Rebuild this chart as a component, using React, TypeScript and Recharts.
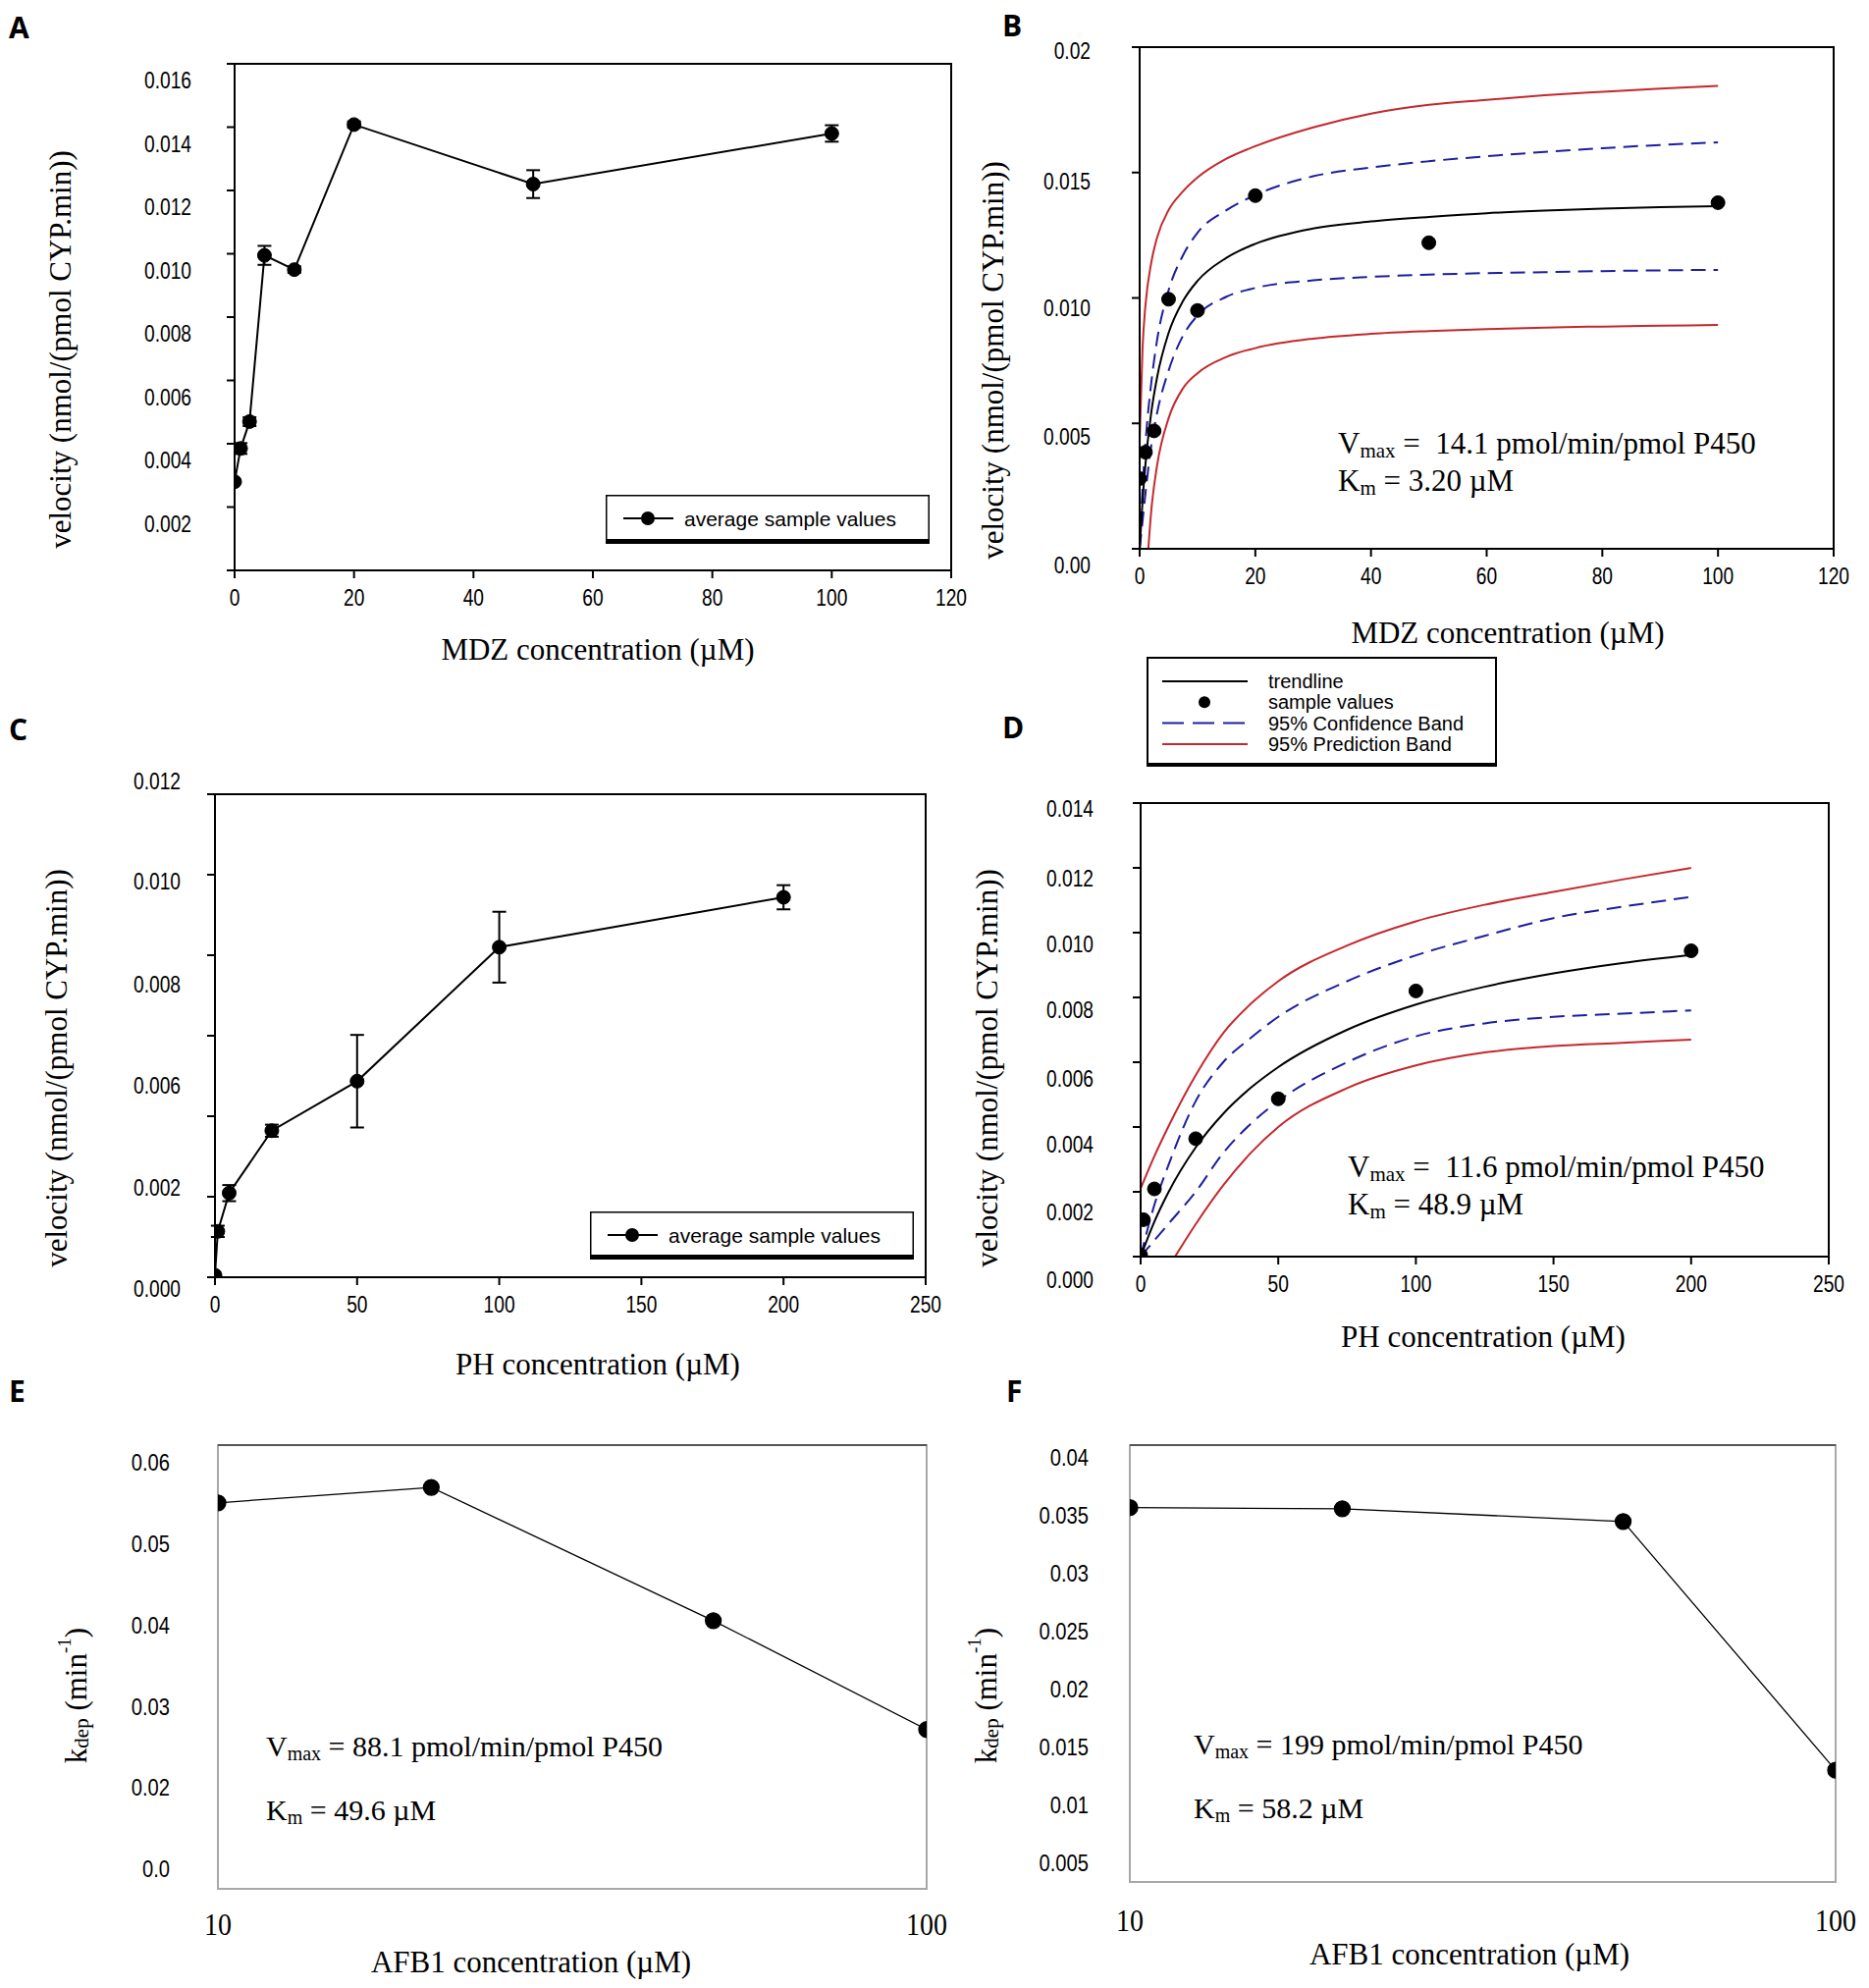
import React from "react";
import {
  ComposedChart,
  Line,
  XAxis,
  YAxis,
  ErrorBar,
  ReferenceArea,
  ReferenceLine,
  Legend,
} from "recharts";

const SANS = "'Liberation Sans', Arial, sans-serif";
const SERIF = "'Liberation Serif', 'Times New Roman', serif";
const BOLD = "'Open Sans', 'Liberation Sans', Arial, sans-serif";
const RED = "#c4282e";
const BLUE = "#1e1e9e";

// MDZ experiment (panels A and B)
const MDZ_CONC = [0, 1, 2.5, 5, 10, 20, 50, 100];
const MDZ_VELOCITY = [0.0028, 0.00385, 0.0047, 0.00995, 0.0095, 0.01408, 0.0122, 0.0138];
const MDZ_SD = [0, 0.00017, 0.00014, 0.0003, 0.0001, 0.0001, 0.00044, 0.00026];

const MDZ_FIT_X = [0, 0.5, 1, 2, 3, 5, 7.5, 10, 15, 20, 30, 40, 50, 60, 70, 80, 90, 100];
const MDZ_TREND = [0, 0.0019, 0.00336, 0.00542, 0.00682, 0.0086, 0.00988, 0.01068, 0.0116, 0.01216, 0.01277, 0.01305, 0.01323, 0.01338, 0.01348, 0.01356, 0.01362, 0.01366];
const MDZ_CONF_UP = [0, 0.0024, 0.0042, 0.0066, 0.0083, 0.0103, 0.0117, 0.0126, 0.0135, 0.0141, 0.01485, 0.0152, 0.01545, 0.01565, 0.01582, 0.01597, 0.0161, 0.0162];
const MDZ_CONF_LOW = [0, 0.0011, 0.0022, 0.0041, 0.0054, 0.0071, 0.0085, 0.0093, 0.01005, 0.0104, 0.0107, 0.01084, 0.01093, 0.01099, 0.01103, 0.01107, 0.0111, 0.01112];
const MDZ_PRED_UP = [0.0043, 0.008, 0.0097, 0.0114, 0.0124, 0.0135, 0.01425, 0.0148, 0.01555, 0.01605, 0.0168, 0.01735, 0.0177, 0.0179, 0.01808, 0.01822, 0.01835, 0.01845];
const MDZ_PRED_LOW_X = [1.5, 2, 3, 5, 7.5, 10, 15, 20, 30, 40, 50, 60, 70, 80, 90, 100];
const MDZ_PRED_LOW = [0, 0.0015, 0.0033, 0.0052, 0.0064, 0.007, 0.00765, 0.008, 0.00838, 0.00857, 0.00868, 0.00876, 0.00882, 0.00886, 0.00889, 0.00892];

// PH experiment (panels C and D)
const PH_CONC = [0, 1, 5, 20, 50, 100, 200];
const PH_VELOCITY = [0.00005, 0.00114, 0.00209, 0.00364, 0.00487, 0.0082, 0.00944];
const PH_SD = [0, 0.00014, 0.0002, 0.00015, 0.00115, 0.00088, 0.0003];

const PH_FIT_X = [0, 5, 10, 20, 30, 40, 50, 75, 100, 125, 150, 175, 200];
const PH_TREND = [0, 0.00108, 0.00197, 0.00337, 0.00441, 0.00521, 0.00585, 0.007, 0.00778, 0.00833, 0.00874, 0.00906, 0.00931];
const PH_CONF_UP = [0, 0.0016, 0.0028, 0.0048, 0.006, 0.00675, 0.0074, 0.0085, 0.0093, 0.0099, 0.01045, 0.0108, 0.0111];
const PH_CONF_LOW = [0, 0.0005, 0.001, 0.002, 0.0032, 0.0041, 0.0048, 0.006, 0.0068, 0.0072, 0.0074, 0.0075, 0.0076];
const PH_PRED_UP = [0.0021, 0.0031, 0.004, 0.0056, 0.0069, 0.0078, 0.0085, 0.0096, 0.01035, 0.01086, 0.01126, 0.01164, 0.012];
const PH_PRED_LOW_X = [12.5, 20, 30, 40, 50, 75, 100, 125, 150, 175, 200];
const PH_PRED_LOW = [0, 0.001, 0.0022, 0.0032, 0.004, 0.0052, 0.0059, 0.0063, 0.0065, 0.0066, 0.0067];

// AFB1 depletion (panels E and F)
const AFB1_CONC = [10, 20, 50, 100];
const E_KDEP = [0.0551, 0.057, 0.0406, 0.0272];
const F_KDEP = [0.0357, 0.0356, 0.0345, 0.013];

// tick values and labels
const A_X_TICKS = [0, 20, 40, 60, 80, 100, 120];
const A_X_LABELS = ["0", "20", "40", "60", "80", "100", "120"];
const A_Y_TICKS = [0, 0.002, 0.004, 0.006, 0.008, 0.01, 0.012, 0.014, 0.016];
const A_Y_LABELS = ["", "0.002", "0.004", "0.006", "0.008", "0.010", "0.012", "0.014", "0.016"];
const B_Y_TICKS = [0, 0.005, 0.01, 0.015, 0.02];
const B_Y_LABELS = ["0.00", "0.005", "0.010", "0.015", "0.02"];
const C_X_TICKS = [0, 50, 100, 150, 200, 250];
const C_X_LABELS = ["0", "50", "100", "150", "200", "250"];
const C_Y_TICKS = [0, 0.002, 0.004, 0.006, 0.008, 0.01, 0.012];
const C_Y_LABELS = ["0.000", "0.002", "", "0.006", "0.008", "0.010", "0.012"];
const D_Y_TICKS = [0, 0.002, 0.004, 0.006, 0.008, 0.01, 0.012, 0.014];
const D_Y_LABELS = ["0.000", "0.002", "0.004", "0.006", "0.008", "0.010", "0.012", "0.014"];
const E_X_TICKS = [10, 100];
const E_X_LABELS = ["10", "100"];
const E_Y_TICKS = [0.01, 0.02, 0.03, 0.04, 0.05, 0.06];
const E_Y_LABELS = ["0.0", "0.02", "0.03", "0.04", "0.05", "0.06"];
const F_Y_TICKS = [0.005, 0.01, 0.015, 0.02, 0.025, 0.03, 0.035, 0.04];
const F_Y_LABELS = ["0.005", "0.01", "0.015", "0.02", "0.025", "0.03", "0.035", "0.04"];

// the scanned figure draws its y labels a little off their ticks
const A_Y_SHIFT = [17, 17, 17, 17, 17, 17, 17, 17, 17];
const B_Y_SHIFT = [17, 13, 10, 9, 4];
const C_Y_SHIFT = [12, -9, 0, 51, 30, 7, -13];
const D_Y_SHIFT = [24, 21, 18, 17, 13, 12, 11, 6];

const rows = (xs: number[], ys: number[], errs?: number[]) =>
  xs.map((x, i) => ({ x, y: ys[i], err: errs ? errs[i] : 0 }));

// narrow sans labels, like the condensed face in the figure
function Tick(props: any) {
  const { x, y, index, labels, shifts, anchor, size, family, squeeze = 1 } = props;
  const text = labels[index] ?? "";
  const dy = shifts ? shifts[index] ?? 0 : 0;
  return (
    <text transform={`translate(${x} ${y + dy}) scale(${squeeze} 1)`} textAnchor={anchor} dominantBaseline="central" fontFamily={family} fontSize={size} fill="#000">
      {text}
    </text>
  );
}

function VTitle({ x, y, children }: any) {
  return (
    <text x={x} y={y} transform={`rotate(-90 ${x} ${y})`} textAnchor="middle" dominantBaseline="central" fontFamily={SERIF} fontSize={31} fill="#000">
      {children}
    </text>
  );
}

function HTitle({ x, y, children }: any) {
  return (
    <text x={x} y={y} textAnchor="middle" dominantBaseline="central" fontFamily={SERIF} fontSize={31} fill="#000">
      {children}
    </text>
  );
}

function Kinetics({ x, y, vmax, km, gap = 38, size = 31 }: any) {
  const sub = Math.round(size * 0.68);
  return (
    <g fontFamily={SERIF} fontSize={size} fill="#000">
      <text x={x} y={y} xmlSpace="preserve" style={{ whiteSpace: "pre" }}>
        V<tspan fontSize={sub} dy={4}>max</tspan>
        <tspan dy={-4}>{vmax}</tspan>
      </text>
      <text x={x} y={y + gap} xmlSpace="preserve" style={{ whiteSpace: "pre" }}>
        K<tspan fontSize={sub} dy={4}>m</tspan>
        <tspan dy={-4}>{km}</tspan>
      </text>
    </g>
  );
}

function KdepTitle({ x, y }: any) {
  return (
    <VTitle x={x} y={y}>
      k<tspan fontSize={21} dy={6}>dep</tspan>
      <tspan dy={-6}>{" (min"}</tspan>
      <tspan fontSize={19} dy={-12}>-1</tspan>
      <tspan dy={12}>)</tspan>
    </VTitle>
  );
}

function SampleLegend({ width, height }: any) {
  return (
    <svg width={width} height={height} style={{ display: "block" }}>
      <rect x={0.75} y={0.75} width={width - 1.5} height={height - 4} fill="#fff" stroke="#000" strokeWidth={1.5} />
      <rect x={0} y={height - 5} width={width} height={5} fill="#000" />
      <line x1={18} x2={69} y1={24} y2={24} stroke="#000" strokeWidth={2} />
      <circle cx={43} cy={24} r={7} fill="#000" />
      <text x={80} y={24} dominantBaseline="central" fontFamily={SANS} fontSize={21} fill="#000">
        average sample values
      </text>
    </svg>
  );
}

const FIT_LEGEND = [
  { name: "trendline", kind: "line", color: "#000", dash: undefined },
  { name: "sample values", kind: "dot", color: "#000", dash: undefined },
  { name: "95% Confidence Band", kind: "line", color: BLUE, dash: "22 9" },
  { name: "95% Prediction Band", kind: "line", color: RED, dash: undefined },
];

function FitLegend({ width, height }: any) {
  return (
    <svg width={width} height={height} style={{ display: "block" }}>
      <rect x={1} y={1} width={width - 2} height={height - 4} fill="#fff" stroke="#000" strokeWidth={2} />
      <rect x={0} y={height - 4} width={width} height={4} fill="#000" />
      {FIT_LEGEND.map((item, i) => {
        const cy = 25 + i * 21.3;
        return (
          <g key={item.name}>
            {item.kind === "line" ? (
              <line x1={16} x2={103} y1={cy} y2={cy} stroke={item.color} strokeWidth={2} strokeDasharray={item.dash} />
            ) : (
              <circle cx={59} cy={cy} r={6} fill="#000" />
            )}
            <text x={124} y={cy} dominantBaseline="central" fontFamily={SANS} fontSize={20} fill="#000">
              {item.name}
            </text>
          </g>
        );
      })}
    </svg>
  );
}

const AXIS = { stroke: "#000", strokeWidth: 2 };
const dotStyle = { r: 7, fill: "#000", stroke: "#000", strokeWidth: 1 };

function MeanChart({ xs, ys, errs, xMax, yMax, xTicks, xLabels, yTicks, yLabels, yShift, w, h, top, right, yWidth, xHeight, yTickMargin, legend, titles }: any) {
  return (
    <ComposedChart width={w} height={h} margin={{ top, right, left: 0, bottom: 0 }}>
      <XAxis type="number" dataKey="x" domain={[0, xMax]} ticks={xTicks} interval={0} allowDataOverflow height={xHeight} tickSize={8} tickMargin={20} axisLine={AXIS} tickLine={AXIS}
        tick={<Tick labels={xLabels} anchor="middle" size={24} squeeze={0.8} family={SANS} />} />
      <YAxis type="number" domain={[0, yMax]} ticks={yTicks} interval={0} allowDataOverflow width={yWidth} tickSize={8} tickMargin={yTickMargin} axisLine={AXIS} tickLine={AXIS}
        tick={<Tick labels={yLabels} shifts={yShift} anchor="end" size={24} squeeze={0.8} family={SANS} />} />
      <ReferenceArea x1={0} x2={xMax} y1={0} y2={yMax} fill="none" stroke="#000" strokeWidth={2} ifOverflow="visible" />
      <Line data={rows(xs, ys, errs)} dataKey="y" type="linear" stroke="#000" strokeWidth={2} dot={dotStyle} activeDot={false} isAnimationActive={false}>
        <ErrorBar dataKey="err" width={7} stroke="#000" strokeWidth={2} direction="y" />
      </Line>
      <Legend layout="vertical" align="center" verticalAlign="middle" wrapperStyle={{ left: legend.left, top: legend.top, width: legend.width, height: legend.height }}
        content={() => <SampleLegend width={legend.width} height={legend.height} />} />
      {titles}
    </ComposedChart>
  );
}

function FitChart({ fitX, trend, confUp, confLow, predUp, predLowX, predLow, xs, ys, xMax, yMax, xTicks, xLabels, yTicks, yLabels, yShift, w, h, top, right, yWidth, xHeight, yTickMargin, children }: any) {
  const band = (data: any, color: string, dash?: string) => (
    <Line data={data} dataKey="y" type="monotone" stroke={color} strokeWidth={2} strokeDasharray={dash} dot={false} activeDot={false} isAnimationActive={false} />
  );
  return (
    <ComposedChart width={w} height={h} margin={{ top, right, left: 0, bottom: 0 }}>
      <XAxis type="number" dataKey="x" domain={[0, xMax]} ticks={xTicks} interval={0} allowDataOverflow height={xHeight} tickSize={8} tickMargin={20} axisLine={AXIS} tickLine={AXIS}
        tick={<Tick labels={xLabels} anchor="middle" size={24} squeeze={0.8} family={SANS} />} />
      <YAxis type="number" domain={[0, yMax]} ticks={yTicks} interval={0} allowDataOverflow width={yWidth} tickSize={8} tickMargin={yTickMargin} axisLine={AXIS} tickLine={AXIS}
        tick={<Tick labels={yLabels} shifts={yShift} anchor="end" size={24} squeeze={0.8} family={SANS} />} />
      <ReferenceArea x1={0} x2={xMax} y1={0} y2={yMax} fill="none" stroke="#000" strokeWidth={2} ifOverflow="visible" />
      {band(rows(fitX, predUp), RED)}
      {band(rows(predLowX, predLow), RED)}
      {band(rows(fitX, confUp), BLUE, "15 8")}
      {band(rows(fitX, confLow), BLUE, "15 8")}
      {band(rows(fitX, trend), "#000")}
      <Line data={rows(xs, ys)} dataKey="y" stroke="none" dot={dotStyle} activeDot={false} isAnimationActive={false} />
      {children}
    </ComposedChart>
  );
}

function DepletionChart({ ys, yDomain, yTicks, yLabels, w, h, top, right, yWidth, xHeight, yTickMargin, xTickMargin, children }: any) {
  return (
    <ComposedChart width={w} height={h} margin={{ top, right, left: 0, bottom: 0 }}>
      <XAxis type="number" dataKey="x" scale="log" domain={[10, 100]} ticks={E_X_TICKS} interval={0} allowDataOverflow height={xHeight} tickSize={0} tickMargin={xTickMargin} axisLine={false} tickLine={false}
        tick={<Tick labels={E_X_LABELS} anchor="middle" size={31} squeeze={0.9} family={SERIF} />} />
      <YAxis type="number" domain={yDomain} ticks={yTicks} interval={0} allowDataOverflow width={yWidth} tickSize={0} tickMargin={yTickMargin} axisLine={false} tickLine={false}
        tick={<Tick labels={yLabels} anchor="end" size={24} squeeze={0.84} family={SANS} />} />
      <ReferenceArea x1={10} x2={100} y1={yDomain[0]} y2={yDomain[1]} fill="none" stroke="#a8a8a8" strokeWidth={2} ifOverflow="visible" />
      <ReferenceLine y={yDomain[1]} stroke="#555" strokeWidth={2} ifOverflow="visible" />
      <Line data={rows(AFB1_CONC, ys)} dataKey="y" type="linear" stroke="#000" strokeWidth={1.3} dot={{ r: 8, fill: "#000", stroke: "#000" }} activeDot={false} isAnimationActive={false} />
      {children}
    </ComposedChart>
  );
}

const PANEL_LETTERS = [
  { l: "A", x: 9, y: 39 },
  { l: "B", x: 1021, y: 37 },
  { l: "C", x: 9, y: 754 },
  { l: "D", x: 1021, y: 752 },
  { l: "E", x: 9, y: 1428 },
  { l: "F", x: 1025, y: 1428 },
];

const place = (left: number, top: number): React.CSSProperties => ({ position: "absolute", left, top });

export default function App() {
  return (
    <div style={{ position: "absolute", left: 0, top: 0, width: 1904, height: 2025, background: "#fff", overflow: "hidden" }}>
      <div style={place(0, 0)}>
        <MeanChart xs={MDZ_CONC} ys={MDZ_VELOCITY} errs={MDZ_SD} xMax={120} yMax={0.016}
          xTicks={A_X_TICKS} xLabels={A_X_LABELS} yTicks={A_Y_TICKS} yLabels={A_Y_LABELS} yShift={A_Y_SHIFT}
          w={990} h={700} top={65} right={21} yWidth={239} xHeight={119} yTickMargin={36}
          legend={{ left: 617, top: 504, width: 330, height: 50 }}
          titles={[
            <VTitle key="y" x={61} y={356}>velocity (nmol/(pmol CYP.min))</VTitle>,
            <HTitle key="x" x={609} y={661}>MDZ concentration (µM)</HTitle>,
          ]} />
      </div>

      <div style={place(960, 0)}>
        <FitChart fitX={MDZ_FIT_X} trend={MDZ_TREND} confUp={MDZ_CONF_UP} confLow={MDZ_CONF_LOW} predUp={MDZ_PRED_UP}
          predLowX={MDZ_PRED_LOW_X} predLow={MDZ_PRED_LOW} xs={MDZ_CONC} ys={MDZ_VELOCITY} xMax={120} yMax={0.02}
          xTicks={A_X_TICKS} xLabels={A_X_LABELS} yTicks={B_Y_TICKS} yLabels={B_Y_LABELS} yShift={B_Y_SHIFT}
          w={944} h={800} top={48} right={36} yWidth={201} xHeight={241} yTickMargin={42}>
          <Legend layout="vertical" align="center" verticalAlign="middle" wrapperStyle={{ left: 208, top: 669, width: 357, height: 112 }}
            content={() => <FitLegend width={357} height={112} />} />
          <VTitle x={51} y={367}>velocity (nmol/(pmol CYP.min))</VTitle>
          <HTitle x={576} y={644}>MDZ concentration (µM)</HTitle>
          <Kinetics x={403} y={462} vmax={" =  14.1 pmol/min/pmol P450"} km={" = 3.20 µM"} />
        </FitChart>
      </div>

      <div style={place(0, 700)}>
        <MeanChart xs={PH_CONC} ys={PH_VELOCITY} errs={PH_SD} xMax={250} yMax={0.012}
          xTicks={C_X_TICKS} xLabels={C_X_LABELS} yTicks={C_Y_TICKS} yLabels={C_Y_LABELS} yShift={C_Y_SHIFT}
          w={990} h={720} top={109} right={47} yWidth={219} xHeight={119} yTickMargin={27}
          legend={{ left: 601, top: 534, width: 330, height: 49 }}
          titles={[
            <VTitle key="y" x={57} y={388}>velocity (nmol/(pmol CYP.min))</VTitle>,
            <HTitle key="x" x={609} y={689}>PH concentration (µM)</HTitle>,
          ]} />
      </div>

      <div style={place(960, 790)}>
        <FitChart fitX={PH_FIT_X} trend={PH_TREND} confUp={PH_CONF_UP} confLow={PH_CONF_LOW} predUp={PH_PRED_UP}
          predLowX={PH_PRED_LOW_X} predLow={PH_PRED_LOW} xs={PH_CONC} ys={PH_VELOCITY} xMax={250} yMax={0.014}
          xTicks={C_X_TICKS} xLabels={C_X_LABELS} yTicks={D_Y_TICKS} yLabels={D_Y_LABELS} yShift={D_Y_SHIFT}
          w={944} h={630} top={28} right={41} yWidth={202} xHeight={140} yTickMargin={40}>
          <VTitle x={45} y={298}>velocity (nmol/(pmol CYP.min))</VTitle>
          <HTitle x={551} y={571}>PH concentration (µM)</HTitle>
          <Kinetics x={413} y={409} vmax={" =  11.6 pmol/min/pmol P450"} km={" = 48.9 µM"} />
        </FitChart>
      </div>

      <div style={place(0, 1420)}>
        <DepletionChart ys={E_KDEP} yDomain={[0.0076, 0.0622]} yTicks={E_Y_TICKS} yLabels={E_Y_LABELS}
          w={990} h={605} top={52} right={46} yWidth={222} xHeight={101} yTickMargin={49} xTickMargin={36}>
          <KdepTitle x={77} y={307} />
          <HTitle x={541} y={578}>AFB1 concentration (µM)</HTitle>
          <Kinetics x={271} y={369} gap={65} size={30} vmax={" = 88.1 pmol/min/pmol P450"} km={" = 49.6 µM"} />
        </DepletionChart>
      </div>

      <div style={place(960, 1420)}>
        <DepletionChart ys={F_KDEP} yDomain={[0.00334, 0.0411]} yTicks={F_Y_TICKS} yLabels={F_Y_LABELS}
          w={944} h={605} top={52} right={34} yWidth={191} xHeight={108} yTickMargin={42} xTickMargin={39}>
          <KdepTitle x={44} y={307} />
          <HTitle x={537} y={570}>AFB1 concentration (µM)</HTitle>
          <Kinetics x={256} y={367} gap={65} size={30} vmax={" = 199 pmol/min/pmol P450"} km={" = 58.2 µM"} />
        </DepletionChart>
      </div>

      <svg width={1904} height={2025} style={{ position: "absolute", left: 0, top: 0, pointerEvents: "none" }}>
        {PANEL_LETTERS.map((p) => (
          <text key={p.l} x={p.x} y={p.y} fontFamily={BOLD} fontWeight={700} fontSize={30} fill="#000">
            {p.l}
          </text>
        ))}
      </svg>
    </div>
  );
}
